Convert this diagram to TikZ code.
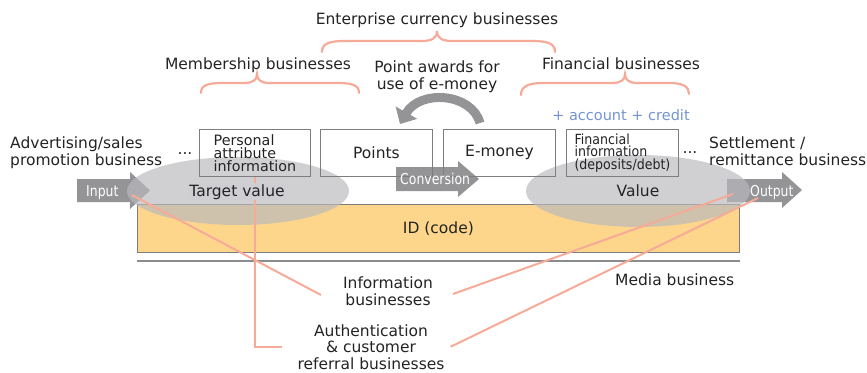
\documentclass[tikz,border=0pt]{standalone}
\usepackage{fontspec}
\setmainfont{DejaVu Sans}
\newfontfamily\narrowfont[FakeStretch=0.83]{DejaVu Sans}
\newfontfamily\tightfont[FakeStretch=0.9]{DejaVu Sans}
\usetikzlibrary{arrows.meta,shapes.geometric}

\definecolor{ink}{RGB}{35,35,35}
\definecolor{boxline}{RGB}{125,125,125}
\definecolor{rulegray}{RGB}{140,140,140}
\definecolor{arrowgray}{RGB}{148,148,150}
\definecolor{ellgray}{RGB}{185,185,190}
\definecolor{ellonwhite}{RGB}{207,207,211}
\definecolor{idfill}{RGB}{253,214,140}
\definecolor{pinkline}{RGB}{246,170,152}
\definecolor{bluetext}{RGB}{115,148,212}

\tikzset{
  lbl/.style={font=\fontsize{15.5}{16.5}\selectfont, text=ink, inner sep=0pt},
  item/.style={draw=boxline, line width=0.9pt, inner sep=0pt, anchor=north west,
               minimum width=111pt, minimum height=47pt, text=ink},
  boxtext/.style={font=\fontsize{14.3}{13.2}\selectfont, align=left},
  fintext/.style={font=\tightfont\fontsize{14}{12.7}\selectfont, align=left},
  flowarrow/.style={fill=arrowgray},
  arrowtext/.style={font=\narrowfont\fontsize{15}{15}\selectfont, text=white, inner sep=0pt},
  halo/.style={ellipse, fill=ellgray, fill opacity=0.68, inner sep=0pt},
  link/.style={draw=pinkline, line width=2pt},
  bracket/.style={draw=pinkline, line width=2.2pt, line cap=round},
}

\begin{document}
\begin{tikzpicture}[x=1pt, y=-1pt]
\useasboundingbox (0,0) rectangle (867,372);

% ID band and media rule
\node[draw=boxline, fill=idfill, line width=0.8pt, inner sep=0pt, anchor=north west,
      minimum width=602pt, minimum height=48pt] (idband) at (137,204) {};
\draw[rulegray, line width=2pt] ([yshift=-8pt]idband.south west) -- ([yshift=-8pt]idband.south east);

% flow arrows
\fill[flowarrow] (77,179) -- (130,179) -- (130,172) -- (150,190.5) -- (130,209) -- (130,202) -- (77,202) -- cycle;
\fill[flowarrow] (396,167) -- (458,167) -- (458,161) -- (479,179) -- (458,197) -- (458,191) -- (396,191) -- cycle;
\fill[flowarrow] (727,179) -- (782,179) -- (782,172) -- (802,190) -- (782,208) -- (782,202) -- (727,202) -- cycle;

% translucent value regions
\node[halo, minimum width=222pt, minimum height=68pt] (lefthalo) at (238,191) {};
\node[halo, minimum width=224pt, minimum height=72pt] (righthalo) at (638,191) {};

\node[lbl] (idtext) at (idband.center) {ID (code)};

% value boxes
\node[item, boxtext] (personal) at (199,129) {Personal\\attribute\\information};
\node[item, lbl, minimum width=112pt] (points) at (320,129) {Points};
\node[item, lbl, minimum width=112pt] (emoney) at (443,129) {E-money};
\node[item, fintext, minimum width=112pt] (fininfo) at (566,129) {Financial\\information\\(deposits/debt)};

% point award loop
\draw[arrowgray, line width=9pt, -{Triangle[length=13pt, width=24pt]}]
  ([xshift=37pt, yshift=6pt]emoney.north west) .. controls +(-8,-30) and +(20,-35) ..
  ([xshift=80pt, yshift=5pt]points.north west);

% braces
\draw[bracket] (322,52) .. controls (322,44) and (328,41) .. (345,41) -- (422,41)
  .. controls (432,41) and (437,38) .. (437,31) .. controls (437,38) and (442,41) .. (452,41)
  -- (532,41) .. controls (549,41) and (555,44) .. (555,52);
\draw[bracket] (201,93) .. controls (201,86) and (206,83) .. (222,83) -- (244,83)
  .. controls (253,83) and (257,80) .. (257,74) .. controls (257,80) and (261,83) .. (270,83)
  -- (338,83) .. controls (354,83) and (359,86) .. (359,93);
\draw[bracket] (521,95) .. controls (521,87) and (527,83) .. (543,83) -- (612,83)
  .. controls (621,83) and (625,80) .. (625,74) .. controls (625,80) and (629,83) .. (638,83)
  -- (669,83) .. controls (684,83) and (689,87) .. (689,94);

% headings
\node[lbl, anchor=base] (enterprise) at (437,24) {Enterprise currency businesses};
\node[lbl, anchor=base] (membership) at (258,69) {Membership businesses};
\node[lbl, anchor=base] (financial) at (621,69) {Financial businesses};
\node[lbl, anchor=base, align=center] (award) at (437,89) {Point awards for\\use of e-money};
\node[lbl, anchor=base, text=bluetext, font=\fontsize{14.5}{16}\selectfont] (extra) at (621,120) {+ account + credit};

% side labels
\node[lbl, anchor=base west, align=left] (advert) at (10,165) {Advertising/sales\\promotion business};
\node[lbl, anchor=base west, align=left] (settle) at (709,165) {Settlement /\\remittance business};
\node[lbl, anchor=base] (dotsleft) at (185,154) {...};
\node[lbl, anchor=base] (dotsright) at (690,153) {...};

% lower labels
\node[lbl, anchor=base, align=center] (info) at (388,305) {Information\\businesses};
\node[lbl, anchor=base west] (media) at (615,285) {Media business};
\node[lbl, anchor=base, align=center] (auth) at (371,369) {Authentication\\\& customer\\referral businesses};

% connectors
\coordinate (inputtip) at (132,195);
\coordinate (valuetip) at (733,194);
\coordinate (outputtip) at (758,198);
\draw[link] (inputtip) -- ([xshift=-22pt, yshift=-4pt]info.west);
\draw[link] ([xshift=20pt, yshift=-3pt]info.east) -- (valuetip);
\draw[link] (personal.south) |- ([xshift=-15pt]auth.west);
\draw[link] ([xshift=6pt]auth.east) -- (outputtip);

% labels on the regions and arrows
\node[lbl, anchor=base, fill=ellonwhite, inner sep=1pt] (target) at (237,196) {Target value};
\node[lbl, anchor=base] (value) at (638,196) {Value};
\node[arrowtext, anchor=base west] (inputlbl) at (86,196) {Input};
\node[arrowtext, anchor=base west] (convlbl) at (400,184) {Conversion};
\node[arrowtext, anchor=base west] (outputlbl) at (750,196) {Output};
\end{tikzpicture}
\end{document}
